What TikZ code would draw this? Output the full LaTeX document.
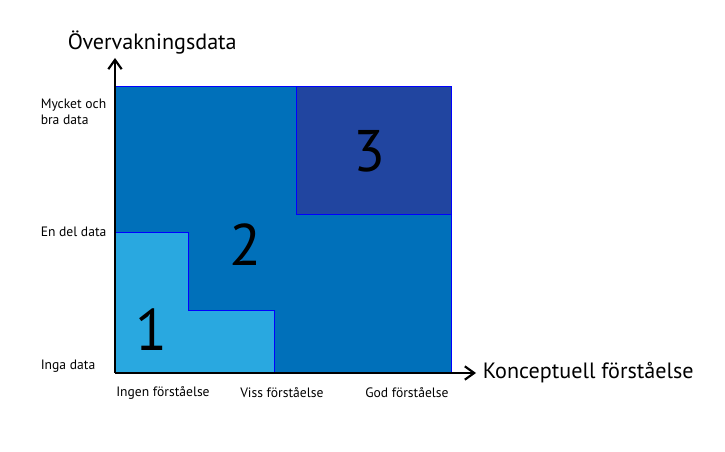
\documentclass[tikz,border=0pt]{standalone}
\usepackage{fontspec}
\setmainfont{PT Sans}
\usetikzlibrary{arrows.meta}
\definecolor{midblue}{RGB}{0,112,186}
\definecolor{lightblue}{RGB}{41,168,224}
\definecolor{darkblue}{RGB}{33,69,160}
\definecolor{edgeblue}{RGB}{0,0,255}
\begin{document}
\begin{tikzpicture}[x=0.75pt,y=-0.75pt,
  region/.style={draw=edgeblue,line width=0.75pt},
  axisline/.style={line width=1.6pt,-{Straight Barb[length=7pt,width=10pt,line width=1.6pt]}},
  ticklbl/.style={font=\fontsize{10.2}{12}\selectfont,inner sep=0pt},
  axislbl/.style={font=\fontsize{16.6}{18}\selectfont,inner sep=0pt},
  digit/.style={font=\fontsize{44}{44}\selectfont,inner sep=0pt}]
\useasboundingbox (0,0) rectangle (725,452);
\fill[white] (0,0) rectangle (725,452);
% regions
\path[region,fill=midblue] (115,87) rectangle (451.5,373);
\path[region,fill=darkblue] (296.3,87) rectangle (451.5,214.3);
\path[region,fill=lightblue] (115,373) -- (115,232.3) -- (188.3,232.3) -- (188.3,311) -- (274.3,311) -- (274.3,373) -- cycle;
% axes
\coordinate (O) at (115,373);
\coordinate (ytip) at (115,58);
\coordinate (xtip) at (476,373);
\draw[axisline] (O) -- (ytip);
\draw[axisline] (O) -- (xtip);
% axis labels
\node[axislbl,anchor=west] (xl) at (482.5,373) {Konceptuell förståelse};
\node[axislbl,anchor=west] (yl) at (67.5,43) {Övervakningsdata};
% tick labels
\node[ticklbl,anchor=west,align=left] (t3) at (40.5,112) {Mycket och\\bra data};
\node[ticklbl,anchor=west] (t2) at (40.5,232) {En del data};
\node[ticklbl,anchor=west] (t1) at (40.5,366) {Inga data};
\node[ticklbl,anchor=west] (x1) at (116,393) {Ingen förståelse};
\node[ticklbl,anchor=west] (x2) at (240,393) {Viss förståelse};
\node[ticklbl,anchor=west] (x3) at (365,393) {God förståelse};
% digits
\node[digit] (n1) at (151.7,330) {1};
\node[digit] (n2) at (245.7,245) {2};
\node[digit] (n3) at (369,151) {3};
\end{tikzpicture}
\end{document}
